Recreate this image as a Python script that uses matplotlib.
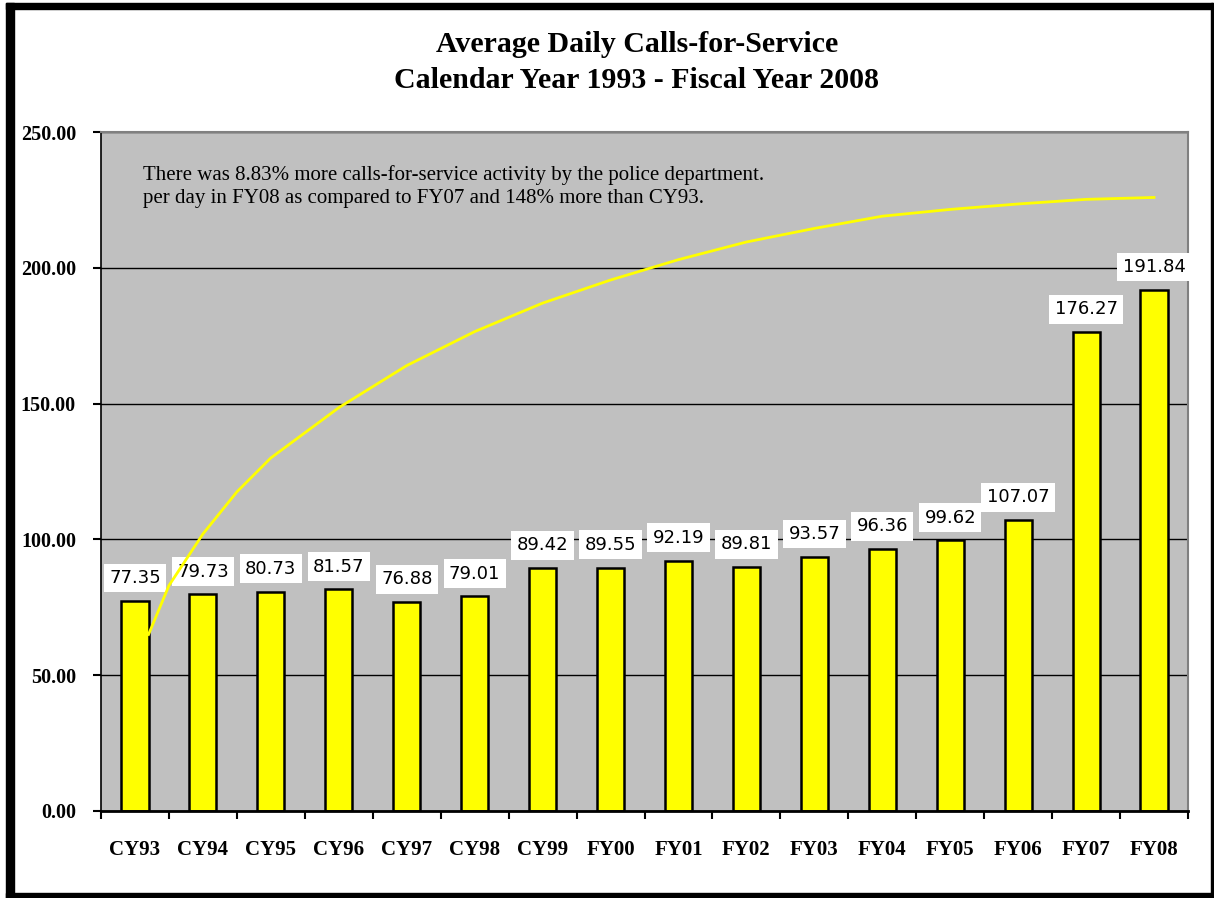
import matplotlib
matplotlib.use("Agg")
import matplotlib.pyplot as plt
from matplotlib.patches import Rectangle

# data
categories = ["CY93", "CY94", "CY95", "CY96", "CY97", "CY98", "CY99", "FY00",
              "FY01", "FY02", "FY03", "FY04", "FY05", "FY06", "FY07", "FY08"]
calls = [77.35, 79.73, 80.73, 81.57, 76.88, 79.01, 89.42, 89.55,
         92.19, 89.81, 93.57, 96.36, 99.62, 107.07, 176.27, 191.84]
labels = ["77.35", "79.73", "80.73", "81.57", "76.88", "79.01", "89.42", "89.55",
          "92.19", "89.81", "93.57", "96.36", "99.62", "107.07", "176.27", "191.84"]

# trend line as seen on the chart (category position, value)
trend_x = [0.2, 0.5, 1.0, 1.5, 2.0, 3.0, 4.0, 5.0, 6.0, 7.0, 8.0, 9.0, 10.0, 11.0, 12.0, 13.0, 14.0, 15.0]
trend_y = [65.0, 83.0, 102.0, 117.5, 130.0, 148.5, 164.0, 176.5, 187.0, 195.5, 203.0,
           209.5, 214.5, 219.0, 221.5, 223.5, 225.2, 225.9]

yticks = [0, 50, 100, 150, 200, 250]

W, H = 1214, 898
fig = plt.figure(figsize=(W / 100, H / 100), dpi=100)
fig.patch.set_facecolor("white")

ax = fig.add_axes([101 / W, (H - 811) / H, (1188 - 101) / W, (811 - 132) / H])
ax.set_facecolor("#C0C0C0")

x = list(range(len(categories)))
ax.bar(x, calls, width=0.4, color="#FFFF00", edgecolor="black", linewidth=1.8, zorder=2)

for xi, v, lab in zip(x, calls, labels):
    ax.annotate(lab, (xi, v), xytext=(0, 10), textcoords="offset points",
                ha="center", va="bottom", fontsize=13, family="DejaVu Sans",
                bbox=dict(boxstyle="square,pad=0.3", fc="white", ec="none"), zorder=3)

ax.plot(trend_x, trend_y, color="#FFFF00", linewidth=2, zorder=4)

ax.set_xlim(-0.5, 15.5)
ax.set_ylim(0, 250)
ax.set_yticks(yticks)
ax.set_yticklabels([f"{t:.2f}" for t in yticks], family="Liberation Serif",
                   fontweight="bold", fontsize=14.5)
ax.yaxis.grid(True, color="black", linewidth=1, zorder=1)
ax.set_axisbelow(True)

ax.set_xticks([i + 0.5 for i in range(-1, 16)])
ax.set_xticklabels([])
ax.set_xticks(x, minor=True)
ax.set_xticklabels(categories, minor=True, family="Liberation Serif",
                   fontweight="bold", fontsize=15)
ax.tick_params(axis="x", which="minor", length=0, pad=21)
ax.tick_params(axis="x", which="major", length=6, width=1.5, direction="out")
ax.tick_params(axis="y", length=6, width=1.5, direction="out", pad=12)

for side in ["top", "right"]:
    ax.spines[side].set_color("#808080")
    ax.spines[side].set_linewidth(1.5)
ax.spines["left"].set_color("black")
ax.spines["left"].set_linewidth(1.2)
ax.spines["bottom"].set_color("black")
ax.spines["bottom"].set_linewidth(2)

ax.text(42 / 1087, 0.951,
        "There was 8.83% more calls-for-service activity by the police department.\n"
        "per day in FY08 as compared to FY07 and 148% more than CY93.",
        transform=ax.transAxes, ha="left", va="top", family="Liberation Serif",
        fontsize=15, linespacing=1.3)

fig.text(637 / W, 1 - 45 / H, "Average Daily Calls-for-Service", ha="center", va="center",
         family="Liberation Serif", fontweight="bold", fontsize=21.5)
fig.text(637 / W, 1 - 80 / H, "Calendar Year 1993 - Fiscal Year 2008", ha="center", va="center",
         family="Liberation Serif", fontweight="bold", fontsize=21.5)

# outer frame
def frame(x0, y0, x1, y1):
    fig.patches.append(Rectangle((x0 / W, 1 - y1 / H), (x1 - x0) / W, (y1 - y0) / H,
                                 transform=fig.transFigure, color="black", zorder=10))

frame(6, 3, 1213, 9)
frame(6, 3, 14, 898)
frame(1211, 3, 1213, 898)
frame(6, 893, 1213, 898)

fig.savefig("out.png", dpi=100)
